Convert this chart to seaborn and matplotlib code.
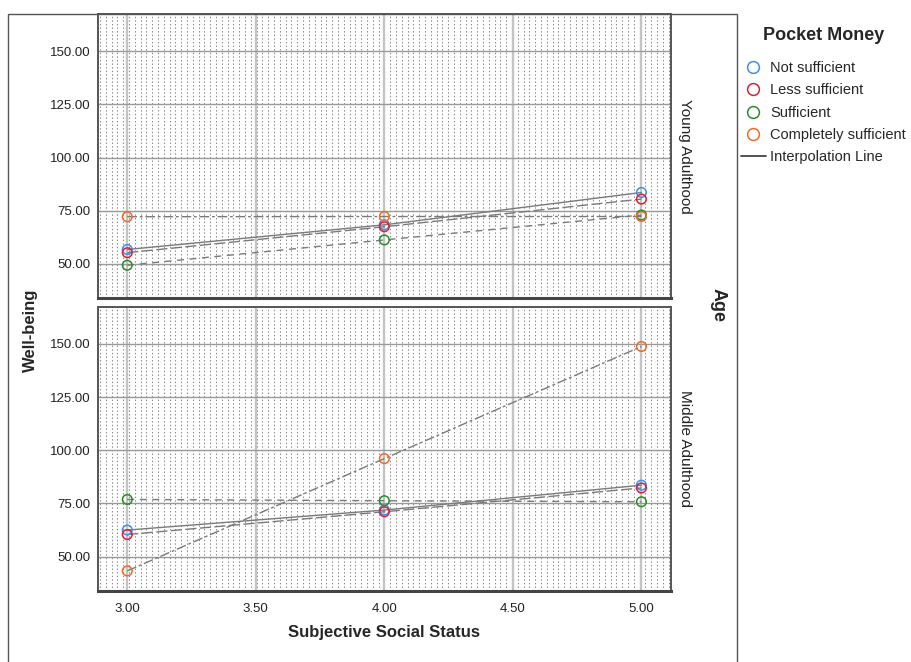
import numpy as np
import pandas as pd
import matplotlib
matplotlib.use('Agg')
import matplotlib.pyplot as plt
from matplotlib.lines import Line2D
from matplotlib.patches import Rectangle
import seaborn as sns

# Subjective social status levels on the x axis
sss = [3, 4, 5]
x_ticks = [3.0, 3.5, 4.0, 4.5, 5.0]
y_ticks = [50, 75, 100, 125, 150]

money_levels = ['Not sufficient', 'Less sufficient', 'Sufficient', 'Completely sufficient']
age_levels = ['Young Adulthood', 'Middle Adulthood']

young_not = [56.8, 68.4, 83.6]
young_less = [55.3, 67.5, 80.5]
young_suff = [49.4, 61.3, 73.0]
young_comp = [72.2, 72.3, 72.3]

middle_not = [62.5, 71.9, 83.6]
middle_less = [60.4, 71.1, 82.3]
middle_suff = [76.9, 76.3, 75.8]
middle_comp = [43.3, 96.1, 148.8]

palette = {'Not sufficient': '#3f8ef0', 'Less sufficient': '#d9203a',
           'Sufficient': '#2b8a2b', 'Completely sufficient': '#f06a28'}
dash_map = {'Not sufficient': '', 'Less sufficient': (8, 2.5),
            'Sufficient': (5, 4), 'Completely sufficient': (7, 2, 2, 2)}

rows = []
for age, series in zip(age_levels, [[young_not, young_less, young_suff, young_comp],
                                    [middle_not, middle_less, middle_suff, middle_comp]]):
    for money, vals in zip(money_levels, series):
        for s, v in zip(sss, vals):
            rows.append({'age': age, 'money': money, 'sss': s, 'wb': v})
df = pd.DataFrame(rows)

sns.set_style('white')
plt.rcParams['font.family'] = ['Liberation Sans', 'DejaVu Sans']

W, H = 912, 662
fig = plt.figure(figsize=(W / 100, H / 100), dpi=100)

left = 97.7 / W
width = (671 - 97.7) / W
panel_h = 284 / H
ax_top = fig.add_axes([left, 1 - 298 / H, width, panel_h])
ax_bot = fig.add_axes([left, 1 - 590.7 / H, width, panel_h])

for ax, age in zip([ax_top, ax_bot], age_levels):
    sub = df[df['age'] == age]
    ax.set_xlim(2.885, 5.115)
    ax.set_ylim(34, 167.5)

    # dotted background texture
    cols = np.arange(0.004, 1.0, 5.8 / 573)
    ax.vlines(cols, 0, 1, transform=ax.transAxes, colors='#8a8a8a',
              linewidth=0.75, linestyles=(0, (1.35, 2.1)), zorder=0)

    ax.set_xticks(x_ticks)
    ax.set_yticks(y_ticks)
    ax.grid(True, axis='y', color='#9a9a9a', linewidth=1.0, zorder=1)
    ax.grid(True, axis='x', color='#c4c4c4', linewidth=1.7, zorder=1)
    ax.set_axisbelow(True)

    sns.lineplot(data=sub, x='sss', y='wb', style='money', style_order=money_levels,
                 dashes=dash_map, color='#7a7a7a', linewidth=1.0, estimator=None,
                 legend=False, ax=ax, zorder=3)
    sns.scatterplot(data=sub, x='sss', y='wb', hue='money', hue_order=money_levels,
                    palette=palette, s=48, marker='o', legend=False, ax=ax, zorder=4)
    # open circles: move fill colour to the edge
    coll = ax.collections[-1]
    fc = coll.get_facecolors()
    coll.set_edgecolors(fc)
    coll.set_facecolors('none')
    coll.set_linewidth(1.1)

    ax.set_xlabel('')
    ax.set_ylabel('')
    ax.yaxis.set_major_formatter(matplotlib.ticker.FormatStrFormatter('%.2f'))
    ax.xaxis.set_major_formatter(matplotlib.ticker.FormatStrFormatter('%.2f'))
    ax.tick_params(length=0, labelsize=9.5, colors='#222222', pad=5)
    for sp in ax.spines.values():
        sp.set_color('#555555')
        sp.set_linewidth(1.4)
    ax.spines['bottom'].set_color('#444444')
    ax.spines['bottom'].set_linewidth(2.2)

    ax.text(1.0 + 13.5 / 573, 0.5, age, transform=ax.transAxes, rotation=-90,
            ha='center', va='center', fontsize=11, color='#222222')

ax_top.tick_params(labelbottom=False)
ax_bot.tick_params(axis='x', pad=9)

fig.text(30 / W, 1 - 330 / H, 'Well-being', rotation=90, ha='center', va='center',
         fontsize=12, fontweight='bold')
fig.text(384 / W, 1 - 633 / H, 'Subjective Social Status', ha='center', va='center',
         fontsize=12, fontweight='bold')
fig.text(718 / W, 1 - 305 / H, 'Age', rotation=-90, ha='center', va='center',
         fontsize=13, fontweight='bold')

# outer chart frame
fig.patches.append(Rectangle((8 / W, -0.02), (737 - 8) / W, (H - 14) / H + 0.02,
                             transform=fig.transFigure, fill=False,
                             edgecolor='#555555', linewidth=1.0))

# legend
fig.text(824 / W, 1 - 35 / H, 'Pocket Money', ha='center', va='center',
         fontsize=13, fontweight='bold')
handles = [Line2D([], [], marker='o', linestyle='none', markersize=8.5,
                  markerfacecolor='none', markeredgecolor=palette[m], markeredgewidth=1.1)
           for m in money_levels]
handles.append(Line2D([], [], color='#444444', linewidth=1.3))
labels = money_levels + ['Interpolation Line']
leg = fig.legend(handles, labels, loc='upper left', bbox_to_anchor=(741 / W, 1 - 61 / H),
                 frameon=False, fontsize=10.5,
                 handlelength=1.7, handletextpad=0.3, labelspacing=0.57, borderpad=0,
                 borderaxespad=0)

fig.savefig('out.png', dpi=100)
